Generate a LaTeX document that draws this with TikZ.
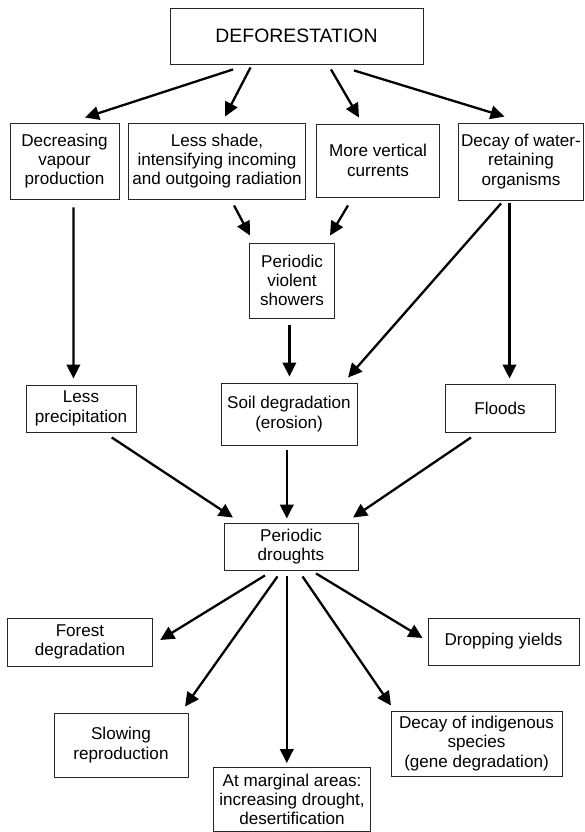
\documentclass[tikz,border=0pt]{standalone}
\usepackage{fontspec}
\setmainfont{Liberation Sans}
\usetikzlibrary{arrows.meta}

\tikzset{
  box/.style={draw=black!85, line width=0.9pt, fill=white, inner sep=0pt,
    align=center, font=\fontsize{17.1}{19.3}\selectfont},
  flow/.style={line width=2.3pt, -{Triangle[length=14pt,width=13.5pt]}},
}

% Place a box from its centre and size: \cbox{name}{cx}{cy}{w}{h}{text}
\newcommand{\cbox}[6]{%
  \node[box, minimum width=#4pt, minimum height=#5pt] (#1) at (#2,#3) {#6};}

\begin{document}
\begin{tikzpicture}[x=1pt, y=-1pt]
  \useasboundingbox (0,0) rectangle (584,832);

  % boxes
  \node[box, minimum width=253pt, minimum height=56pt,
        font=\fontsize{19.4}{22}\selectfont] (def) at (296.5,36) {DEFORESTATION};
  \cbox{vapour}{64.5}{161}{109}{76}{Decreasing\\vapour\\production}
  \cbox{shade}{217}{161}{177.5}{76}{Less shade,\\intensifying incoming\\and outgoing radiation}
  \cbox{vert}{378}{160.5}{123.5}{73}{More vertical\\currents}
  \cbox{decay}{521}{161.5}{124.5}{77}{Decay of water-\\retaining\\organisms}
  \cbox{showers}{292}{280.5}{84.5}{75}{Periodic\\violent\\showers}
  \cbox{precip}{81}{408.5}{110}{47}{Less\\precipitation}
  \cbox{soil}{289}{414}{136}{62}{Soil degradation\\(erosion)}
  \cbox{floods}{500}{408}{110}{48}{Floods}
  \cbox{drought}{291}{546.5}{134}{47}{Periodic\\droughts}
  \cbox{forest}{80}{642}{145.5}{48}{Forest\\degradation}
  \cbox{yields}{503.5}{641.5}{151}{47}{Dropping yields}
  \cbox{slowing}{121}{745}{134}{64}{Slowing\\reproduction}
  \cbox{indig}{476.5}{743.5}{171}{65}{Decay of indigenous\\species\\(gene degradation)}
  \cbox{marginal}{292}{799.5}{156.5}{64}{At marginal areas:\\increasing drought,\\desertification}

  % first level
  \draw[flow] ([shift={(-63.5,5)}]def.south) -- ([shift={(20.5,-5)}]vapour.north);
  \draw[flow] ([shift={(-46,3)}]def.south) -- ([shift={(8,-6)}]shade.north);
  \draw[flow] ([shift={(34.5,5)}]def.south) -- ([shift={(-19,-6)}]vert.north);
  \draw[flow] ([shift={(57.5,6)}]def.south) -- ([shift={(-16.5,-6)}]decay.north);

  % towards the showers
  \draw[flow] ([shift={(17,6)}]shade.south) -- ([shift={(-42,-7)}]showers.north);
  \draw[flow] ([shift={(-30,8)}]vert.south) -- ([shift={(38,-7)}]showers.north);

  % middle level
  \draw[flow] ([shift={(9,8)}]vapour.south) -- ([shift={(-7.6,-6)}]precip.north);
  \draw[flow] ([shift={(-2.6,7)}]showers.south) -- ([shift={(0.4,-6)}]soil.north);
  \draw[flow] ([shift={(-20,3)}]decay.south) -- ([shift={(59,-5)}]soil.north);
  \draw[flow] ([shift={(-11.5,3)}]decay.south) -- ([shift={(9.5,-5)}]floods.north);

  % into the droughts
  \draw[flow] ([shift={(30.7,5)}]precip.south) -- ([shift={(-58,-5)}]drought.north);
  \draw[flow] ([shift={(-2.2,5)}]soil.south) -- ([shift={(-4.2,-4)}]drought.north);
  \draw[flow] ([shift={(-29,5)}]floods.south) -- ([shift={(62,-5)}]drought.north);

  % consequences
  \draw[flow] ([shift={(-26,5)}]drought.south) -- ([shift={(7,-2)}]forest.east);
  \draw[flow] ([shift={(-13.5,6)}]drought.south) -- ([shift={(64,-6)}]slowing.north);
  \draw[flow] ([shift={(-4.2,6)}]drought.south) -- ([shift={(-5.2,-4)}]marginal.north);
  \draw[flow] ([shift={(11.5,6)}]drought.south) -- ([shift={(-85.5,-5)}]indig.north);
  \draw[flow] ([shift={(25,3)}]drought.south) -- ([shift={(-5,-3.5)}]yields.west);
\end{tikzpicture}
\end{document}
